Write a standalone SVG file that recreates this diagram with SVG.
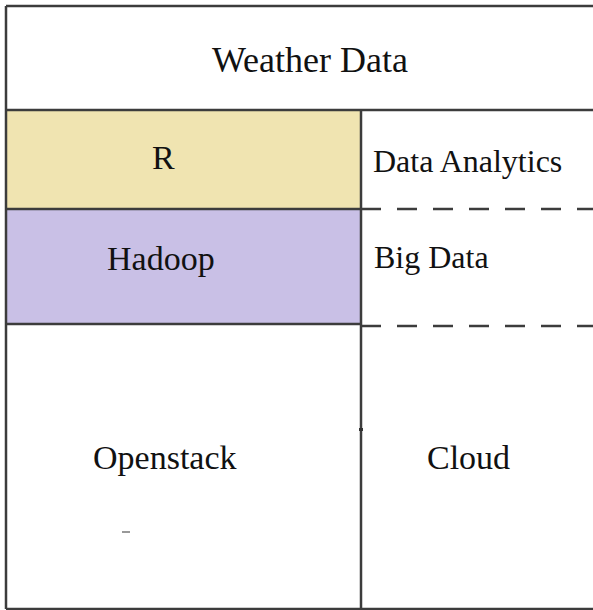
<svg xmlns="http://www.w3.org/2000/svg" width="593" height="610" viewBox="0 0 593 610">
<style>
  .ln{stroke:#3c3c3c;stroke-width:2.5;fill:none}
  .dash{stroke:#3c3c3c;stroke-width:2.5;fill:none;stroke-dasharray:20 16}
  .t{font-family:"Liberation Serif","Times New Roman",serif;fill:#111}
  .big{font-size:36px}
  .mid{font-size:34px}
  .sm{font-size:32px}
</style>
<rect x="0" y="0" width="593" height="610" fill="#ffffff"/>
<g id="weather-data">
  <text class="t big" x="212" y="72">Weather Data</text>
</g>
<g id="r">
  <rect x="6" y="110" width="355" height="99" fill="#f0e4b1"/>
  <text class="t mid" x="152" y="169">R</text>
</g>
<g id="hadoop">
  <rect x="6" y="209" width="355" height="115" fill="#c9c0e6"/>
  <text class="t mid" x="107" y="270">Hadoop</text>
</g>
<g id="openstack">
  <text class="t mid" x="93" y="469">Openstack</text>
  <line x1="122" y1="532" x2="130" y2="532" stroke="#555" stroke-width="1.2"/>
</g>
<g id="data-analytics">
  <text class="t sm" x="373" y="172">Data Analytics</text>
</g>
<g id="big-data">
  <text class="t sm" x="374" y="268">Big Data</text>
</g>
<g id="cloud">
  <text class="t mid" x="427" y="469">Cloud</text>
</g>
<g id="connectors">
  <line class="ln" x1="6" y1="6" x2="593" y2="6"/>
  <line class="ln" x1="6" y1="6" x2="6" y2="609"/>
  <line class="ln" x1="6" y1="609" x2="593" y2="609"/>
  <line class="ln" x1="6" y1="110" x2="593" y2="110"/>
  <line class="ln" x1="361" y1="110" x2="361" y2="609"/>
  <line class="ln" x1="6" y1="209" x2="361" y2="209"/>
  <line class="ln" x1="6" y1="324" x2="361" y2="324"/>
  <line class="dash" x1="361" y1="209" x2="593" y2="209"/>
  <line class="dash" x1="361" y1="326" x2="593" y2="326"/>
  <rect x="359" y="428" width="4" height="3" fill="#333"/>
</g>
</svg>
